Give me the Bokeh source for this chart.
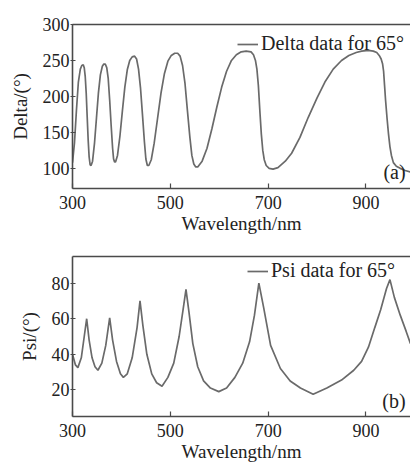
from bokeh.plotting import figure
from bokeh.models import Range1d, FixedTicker, LinearAxis, Legend, LegendItem, Label
from bokeh.layouts import column
from bokeh.embed import file_html
from bokeh.resources import INLINE

# ---- data ----
wl_delta = [300, 304, 308, 312, 316, 319, 322, 324, 326, 328, 330, 332, 334, 336, 338,
            341, 345, 349, 353, 357, 361, 364, 367, 370, 373, 376, 379, 382, 384, 386, 388,
            392, 397, 402, 407, 412, 417, 422, 427, 431, 435, 439, 443, 447, 450, 453, 456,
            461, 467, 474, 481, 488, 495, 502, 509, 515, 520, 525, 530, 535, 540, 544, 548,
            552, 556, 565, 575, 585, 595, 605, 615, 625, 635, 645, 655, 665, 670, 674, 677,
            680, 683, 686, 689, 692, 696, 702, 710, 720, 735, 748, 765, 782, 800, 816, 833,
            850, 865, 880, 891, 905, 915, 922, 927, 931, 934, 936, 938, 940, 943, 946, 949,
            952, 956, 962, 970, 980, 991]
delta = [108, 135, 180, 220, 238, 243, 244, 240, 228, 205, 172, 140, 116, 105, 104,
         110, 135, 170, 205, 230, 242, 245, 245, 240, 225, 195, 160, 128, 113, 109, 109,
         118, 145, 180, 213, 237, 250, 255, 256, 252, 238, 212, 175, 137, 113, 104, 104,
         112, 135, 170, 205, 232, 249, 257, 260, 260, 256, 243, 218, 180, 143, 118, 106,
         102, 102, 110, 128, 155, 185, 213, 235, 250, 258, 262, 263, 262, 258, 250, 238,
         215, 180, 148, 125, 112, 104, 100, 99, 101, 110, 121, 143, 171, 198, 220, 238,
         250, 257, 261, 263, 264, 263, 261, 257, 252, 245, 235, 215, 195, 170, 148, 130,
         118, 108, 103, 100, 97, 95]

wl_psi = [300, 306, 311, 318, 324, 329, 334, 340, 346, 352, 360, 368, 376, 382, 390, 398,
          404, 412, 422, 432, 438, 444, 452, 462, 472, 483, 495, 507, 518, 526, 532, 538,
          546, 556, 568, 582, 599, 615, 632, 648, 662, 672, 681, 691, 705, 725, 745,
          766, 792, 820, 850, 875, 891, 905, 918, 930, 942, 949, 958, 970, 982, 991]
psi = [40, 34, 32.5, 38, 50, 60, 48, 38, 33, 31, 35, 45, 60.5, 48, 36, 29,
       27, 29, 38, 55, 70, 56, 40, 29, 24, 22, 27, 35, 50, 65, 76.5, 64,
       46, 33, 25, 21, 19, 21, 27, 35, 47, 62, 80, 66, 45, 32, 25,
       21, 17.5, 21, 25.5, 31, 36, 44, 55, 65, 77, 82, 72, 62, 53, 46]

x_ticks = [300, 500, 700, 900]
delta_ticks = [100, 150, 200, 250, 300]
psi_ticks = [20, 40, 60, 80]

FONT = "Liberation Serif"
LINE = "#6a6a6a"
AXIS = "#4a4a4a"
TEXT = "#222222"


def make_panel(xs, ys, yr, yticks, ylabel, legend_label, legend_loc, tag, tag_y,
               top, frame_h, bottom):
    p = figure(output_backend="svg", toolbar_location=None,
               frame_width=338, frame_height=frame_h,
               min_border_left=72, min_border_right=0,
               min_border_top=top, min_border_bottom=bottom,
               x_range=Range1d(300, 991), y_range=Range1d(*yr),
               background_fill_color="white", border_fill_color="white")
    p.outline_line_color = None
    p.xgrid.visible = False
    p.ygrid.visible = False

    r = p.line(xs, ys, line_color=LINE, line_width=1.7)

    for ax in (p.xaxis[0], p.yaxis[0]):
        ax.axis_line_color = AXIS
        ax.axis_line_width = 1.6
        ax.major_tick_line_color = AXIS
        ax.major_tick_line_width = 1.2
        ax.minor_tick_line_color = None
        ax.major_label_text_font = FONT
        ax.major_label_text_font_size = "18px"
        ax.major_label_text_color = TEXT
        ax.axis_label_text_font = FONT
        ax.axis_label_text_font_size = "19px"
        ax.axis_label_text_font_style = "normal"
        ax.axis_label_text_color = TEXT

    p.xaxis.ticker = FixedTicker(ticks=x_ticks)
    p.xaxis.major_tick_in = 5
    p.xaxis.major_tick_out = 0
    p.xaxis.major_label_standoff = 7
    p.xaxis.axis_label = "Wavelength/nm"
    p.xaxis.axis_label_standoff = 1

    p.yaxis.ticker = FixedTicker(ticks=yticks)
    p.yaxis.major_tick_in = 3
    p.yaxis.major_tick_out = 2
    p.yaxis.major_label_standoff = 1
    p.yaxis.axis_label = ylabel
    p.yaxis.axis_label_standoff = 9

    top_axis = LinearAxis(ticker=FixedTicker(ticks=[]), axis_line_color=AXIS,
                          axis_line_width=1.6, major_tick_line_color=None,
                          minor_tick_line_color=None,
                          major_label_text_font_size="0px")
    p.add_layout(top_axis, "above")

    legend = Legend(items=[LegendItem(label=legend_label, renderers=[r])],
                    location=legend_loc, label_text_font=FONT,
                    label_text_font_size="20px", label_text_color=TEXT,
                    glyph_width=21, glyph_height=20, label_standoff=3,
                    padding=0, margin=0, spacing=0, label_height=20,
                    background_fill_alpha=0, border_line_color=None)
    p.add_layout(legend)

    p.add_layout(Label(x=981, y=tag_y, text=tag, text_align="right",
                       text_baseline="bottom", text_font=FONT,
                       text_font_size="20px", text_color=TEXT))
    return p


p1 = make_panel(wl_delta, delta, (72, 300), delta_ticks, "Delta/(°)",
                "Delta data for 65°", (165, 133), "(a)", 79, 24, 164, 52)
p2 = make_panel(wl_psi, psi, (5, 95), psi_ticks, "Psi/(°)",
                "Psi data for 65°", (175, 134), "(b)", 7.6, 16, 160, 52)

layout = column(p1, p2, spacing=0)
open("out.html", "w").write(file_html(layout, INLINE))
